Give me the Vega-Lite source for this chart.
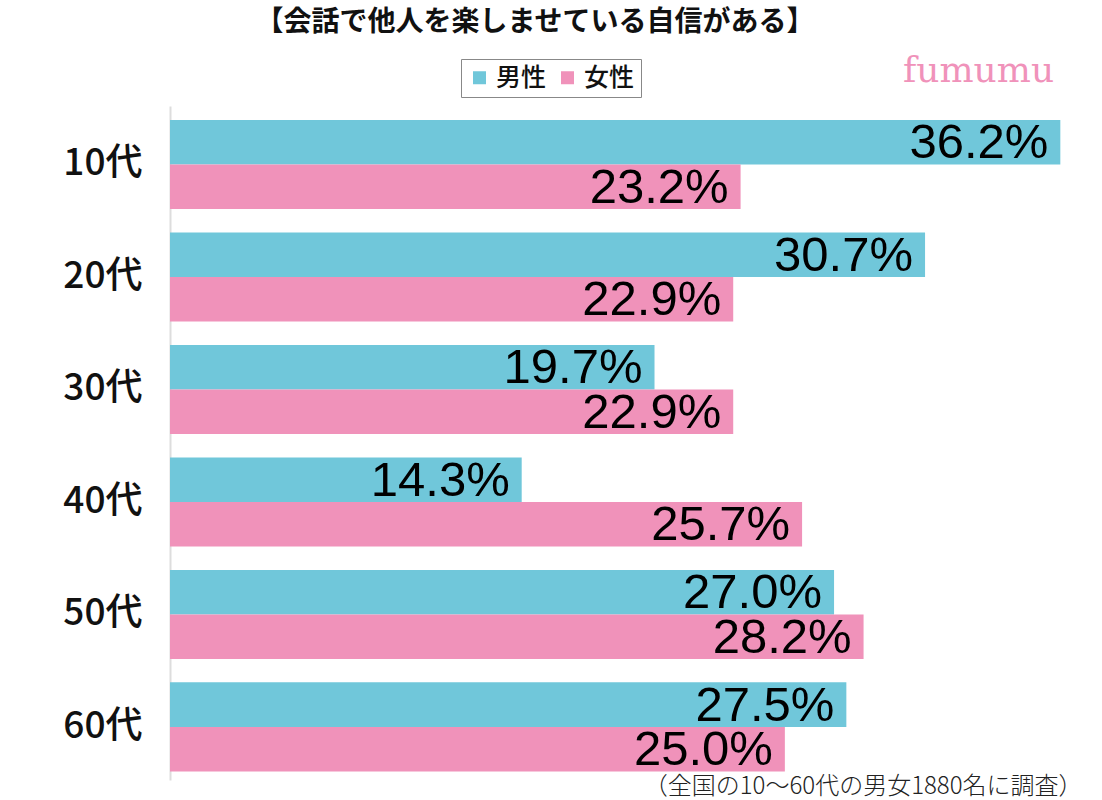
{
  "$schema": "https://vega.github.io/schema/vega-lite/v6.json",
  "width": 910,
  "height": 674,
  "autosize": {"type": "none"},
  "padding": {"left": 170, "top": 106, "right": 22, "bottom": 20},
  "background": "white",
  "config": {"view": {"stroke": null}, "font": "Noto Sans CJK JP"},
  "title": {
    "text": "【会話で他人を楽しませている自信がある】",
    "fontSize": 28,
    "fontWeight": "bold",
    "font": "Noto Sans CJK JP",
    "color": "#111",
    "anchor": "middle",
    "frame": "group",
    "dx": -90,
    "offset": 0,
    "dy": -15
  },
  "data": {
    "values": [
      {"age": "10代", "sex": "男性", "rate": 0.362},
      {"age": "10代", "sex": "女性", "rate": 0.232},
      {"age": "20代", "sex": "男性", "rate": 0.307},
      {"age": "20代", "sex": "女性", "rate": 0.229},
      {"age": "30代", "sex": "男性", "rate": 0.197},
      {"age": "30代", "sex": "女性", "rate": 0.229},
      {"age": "40代", "sex": "男性", "rate": 0.143},
      {"age": "40代", "sex": "女性", "rate": 0.257},
      {"age": "50代", "sex": "男性", "rate": 0.270},
      {"age": "50代", "sex": "女性", "rate": 0.282},
      {"age": "60代", "sex": "男性", "rate": 0.275},
      {"age": "60代", "sex": "女性", "rate": 0.250}
    ]
  },
  "encoding": {
    "y": {
      "field": "age",
      "type": "nominal",
      "sort": ["10代", "20代", "30代", "40代", "50代", "60代"],
      "scale": {"paddingInner": 0.208, "paddingOuter": 0.1, "align": 0.62},
      "axis": {
        "title": null,
        "ticks": false,
        "labelFontSize": 37,
        "labelFontWeight": 500,
        "labelColor": "#111",
        "labelFont": "Noto Sans CJK JP",
        "labelPadding": 28,
        "domainColor": "#dddddd",
        "domainWidth": 2
      }
    },
    "yOffset": {
      "field": "sex",
      "type": "nominal",
      "sort": ["男性", "女性"],
      "scale": {"paddingInner": 0, "paddingOuter": 0}
    },
    "x": {
      "field": "rate",
      "type": "quantitative",
      "scale": {"domain": [0, 0.37]}
    }
  },
  "layer": [
    {
      "mark": {"type": "bar"},
      "encoding": {
        "x": {
          "field": "rate",
          "type": "quantitative",
          "axis": {
            "orient": "bottom",
            "labels": false,
            "ticks": false,
            "domain": false,
            "grid": false,
            "title": "（全国の10〜60代の男女1880名に調査）",
            "titleFontSize": 24,
            "titleFontWeight": 300,
            "titleColor": "#222",
            "titleFont": "Noto Sans CJK JP",
            "titleAnchor": "end",
            "titleAlign": "right",
            "titleBaseline": "middle",
            "titleX": 912,
            "titleY": 6
          }
        },
        "color": {
          "field": "sex",
          "type": "nominal",
          "scale": {"domain": ["男性", "女性"], "range": ["#70c7da", "#f092ba"]},
          "legend": {
            "title": null,
            "orient": "none",
            "legendX": 291,
            "legendY": -47,
            "direction": "horizontal",
            "symbolType": "square",
            "symbolSize": 169,
            "symbolStrokeWidth": 0,
            "labelFontSize": 25,
            "labelFontWeight": 500,
            "labelFont": "Noto Sans CJK JP",
            "labelColor": "#111",
            "labelLimit": 200,
            "columnPadding": 8,
            "strokeColor": "#888888",
            "padding": 6,
            "cornerRadius": 0
          }
        }
      }
    },
    {
      "mark": {
        "type": "text",
        "align": "right",
        "baseline": "middle",
        "dx": -12,
        "dy": 1,
        "fontSize": 49,
        "font": "Liberation Sans",
        "color": "#000"
      },
      "encoding": {
        "x": {
          "field": "rate",
          "type": "quantitative",
          "axis": {
            "orient": "top",
            "labels": false,
            "ticks": false,
            "domain": false,
            "grid": false,
            "title": "fumumu",
            "titleFontSize": 36,
            "titleFontWeight": "normal",
            "titleColor": "#f092ba",
            "titleFont": "DejaVu Serif",
            "titleAlign": "center",
            "titleBaseline": "middle",
            "titleX": 808,
            "titleY": -36
          }
        },
        "text": {"field": "rate", "type": "quantitative", "format": ".1%"}
      }
    }
  ],
  "resolve": {"axis": {"x": "independent"}}
}
